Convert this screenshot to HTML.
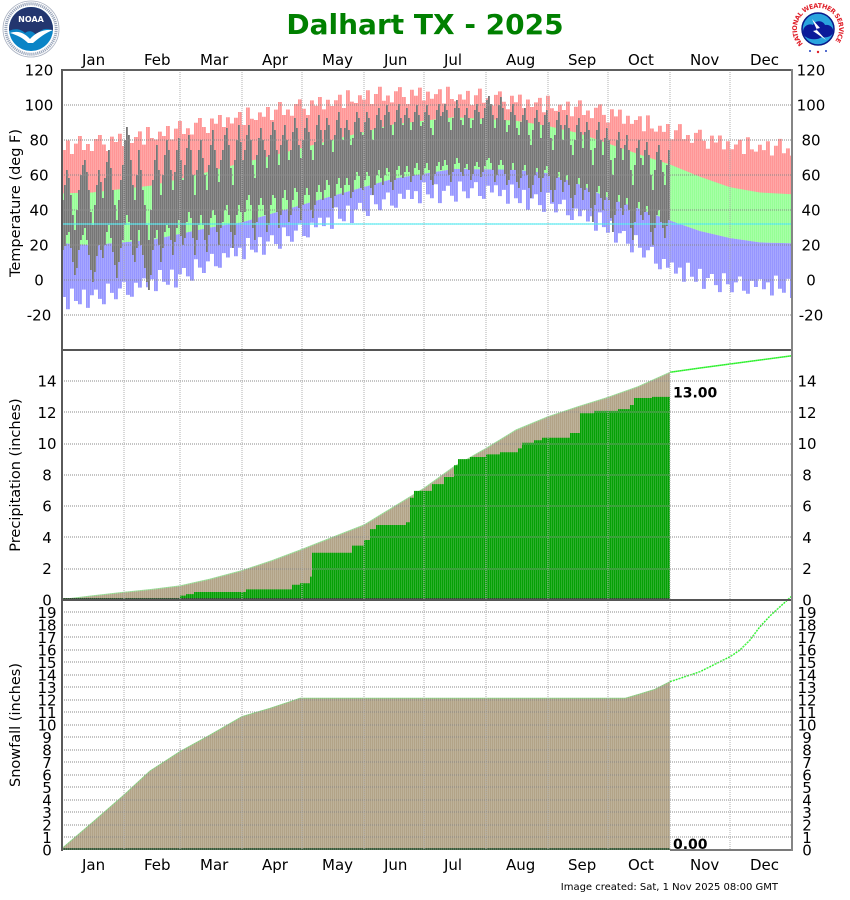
<!DOCTYPE html>
<html><head><meta charset="utf-8">
<style>html,body{margin:0;padding:0;background:#fff;}svg{display:block;}</style>
</head><body>
<svg xmlns="http://www.w3.org/2000/svg" width="850" height="900" viewBox="0 0 850 900" font-family="'DejaVu Sans', 'Liberation Sans', sans-serif">
<defs>
<pattern id="st" width="2" height="4" patternUnits="userSpaceOnUse"><rect x="1" y="0" width="1" height="4" fill="#fff" fill-opacity="0.16"/></pattern>
<clipPath id="nc"><circle cx="31" cy="29" r="22"/></clipPath>
</defs>
<rect width="850" height="900" fill="#fff"/>

<!-- record high band (red) -->
<path fill="#ff9696" d="M62,243.25V150h4V140.5h4V154h4V143.6h4V136h4V150h4V144h4V151h4V139h4V135h4V144.5h4V151h4V136.6h4V142h4V133.7h4V146h4V136.6h4V143h4V137h4V131.4h4V144.6h4V127h4V138h4V139.4h4V131.6h4V136h4V126h4V139.4h4V128.6h4V121h4V134h4V128.3h4V134.5h4V122.7h4V118h4V127h4V133h4V118.5h4V123.7h4V115h4V127h4V117.3h4V123.5h4V117.7h4V112h4V125h4V107.5h4V118.8h4V120h4V112.4h4V116.7h4V107h4V120h4V109.6h4V102h4V115h4V109.5h4V115.8h4V104h4V99.4h4V108.7h4V115h4V100.4h4V105.7h4V97h4V109.4h4V99.7h4V106h4V100.3h4V94.7h4V108h4V90.3h4V101.6h4V103h4V95.3h4V99.6h4V90.2h4V104h4V94h4V86.8h4V100.7h4V95.5h4V102.4h4V91.2h4V87.1h4V97h4V104h4V89.8h4V95.7h4V87.6h4V100.5h4V91.6h4V98.8h4V94.1h4V89.3h4V103.5h4V86.8h4V99h4V101.2h4V94.4h4V99.6h4V90.9h4V105.1h4V95.3h4V88.6h4V102.8h4V98h4V105.5h4V94.9h4V91.4h4V101.8h4V109.3h4V95.7h4V102.2h4V94.6h4V108.1h4V99.5h4V107h4V102.4h4V97.9h4V112.3h4V95.8h4V108.3h4V110.9h4V104.5h4V110h4V101.6h4V116.2h4V106.8h4V100.4h4V115h4V110.5h4V118.1h4V107.7h4V104.3h4V114.9h4V122.5h4V109.3h4V116.4h4V109.6h4V123.7h4V115.8h4V123.9h4V120h4V116.2h4V131.3h4V115.4h4V128.5h4V131.6h4V125.8h4V131.9h4V124h4V139.3h4V130.2h4V124.1h4V139.1h4V135h4V142.9h4V132.9h4V129.8h4V140.7h4V148.7h4V135.6h4V142.5h4V135.5h4V149.4h4V141.3h4V149.3h4V144.5h4V139.7h4V154h4V137.2h4V149.4h4V151.6h4V144.8h4V150.1h4V141.3h4V155.5h4V145.7h4V138.9h4V153.2h4V148.4h4V155.6h2V243.25L760,242.4L730,238L700,231L670,220.5L638,208.25L608,197.75L578,183.75L548,173.25L516,169.75L454,168.9L394,178.5L332,196L272,213.5L242,222.25L210,227.5L152,239.75L92,245L62,243.25Z"/>

<!-- record low band (blue) -->
<path fill="#9696ff" d="M62,243.25V297h4V309.3h4V288.6h4V301h4V304.3h4V289.6h4V307.9h4V295.3h4V289.6h4V298.9h4V304.2h4V283.6h4V292.9h4V299.2h4V288.5h4V281.8h4V294.9h4V296.8h4V282.7h4V287.6h4V278.4h4V287.3h4V279.2h4V291.1h4V270h4V281.8h4V284.7h4V269.6h4V287.5h4V274.3h4V268h4V276.4h4V280.8h4V259.2h4V267.6h4V273h4V261.4h4V253.9h4V266.3h4V267.7h4V253.1h4V257.5h4V247.9h4V256.3h4V247.8h4V259.2h4V238h4V249.7h4V252.4h4V237.1h4V254.8h4V241.5h4V235.3h4V244h4V248.7h4V227.4h4V236.1h4V241.8h4V230.6h4V223.3h4V236h4V237.4h4V222.8h4V227.3h4V217.7h4V226.1h4V217.5h4V228.9h4V207.4h4V218.8h4V221.2h4V205.6h4V223h4V209.5h4V202.9h4V211.3h4V216h4V195.1h4V204.2h4V210.3h4V199.4h4V192.5h4V205.6h4V207.7h4V193.8h4V198.9h4V189.9h4V199h4V191.1h4V203.2h4V182.3h4V194.4h4V198.3h4V184.2h4V203.1h4V190.9h4V185.8h4V195.7h4V201.6h4V181.5h4V191.4h4V198.3h4V188.2h4V182.1h4V196h4V198.9h4V185.8h4V192.5h4V185.3h4V196.1h4V189.9h4V203.7h4V184.5h4V198.3h4V203.1h4V189.9h4V209.7h4V198.5h4V194.3h4V205.1h4V211.9h4V192.7h4V203.8h4V212.4h4V204.1h4V199.7h4V215.3h4V220h4V208.6h4V216.3h4V209.9h4V221.5h4V216.2h4V230.8h4V212.4h4V227.1h4V232.7h4V220.9h4V242.6h4V233.3h4V231h4V243.7h4V252.4h4V235.1h4V247.8h4V257.5h4V250.2h4V246.9h4V263.6h4V269.3h4V259h4V267.7h4V262.5h4V273.6h4V267.6h4V281.7h4V262.7h4V276.8h4V281.8h4V268.9h4V288.9h4V278h4V274h4V285.1h4V292.1h4V273.2h4V284.2h4V292.3h4V282.4h4V276.5h4V290.7h4V293.8h4V280.9h4V287h4V279.1h4V289.2h4V282.4h4V295.5h4V275.6h4V288.7h4V292.8h4V278.9h4V298h2V243.25L760,242.4L730,238L700,231L670,220.5L638,208.25L608,197.75L578,183.75L548,173.25L516,169.75L454,168.9L394,178.5L332,196L272,213.5L242,222.25L210,227.5L152,239.75L92,245L62,243.25Z"/>

<!-- normal range (green) -->
<polygon fill="#96ff96" points="62,193.4 92,192.5 152,185.5 210,171.5 242,162.75 272,155.75 332,140 394,124.25 454,117.25 516,120.75 548,126 578,133 608,143.5 638,154 670,164.5 700,176.75 730,187.25 760,192.5 792,194.25 792,243.25 760,242.4 730,238 700,231 670,220.5 638,208.25 608,197.75 578,183.75 548,173.25 516,169.75 454,168.9 394,178.5 332,196 272,213.5 242,222.25 210,227.5 152,239.75 92,245 62,243.25"/>

<!-- actual daily temps (gray) -->
<path fill="none" stroke="#767676" stroke-width="2" d="M63,200V250M65,185V246M67,170V235M69,178V232M71,195V248M73,215V262M75,230V275M77,210V268M79,190V250M81,175V240M83,165V235M85,160V228M87,172V240M89,190V255M91,212V270M93,225V282M95,205V272M97,185V256M99,170V245M101,182V250M103,198V258M105,178V245M107,162V232M109,150V225M111,168V238M113,190V252M115,205V265M117,220V278M119,200V262M121,180V248M123,165V240M125,140V225M127,127V215M129,135V222M131,160V240M133,185V255M135,200V262M137,175V248M139,150V230M141,170V245M143,190V255M145,205V268M147,225V282M149,240V290M151,210V275M153,180V250M155,160V238M157,145V230M159,170V245M161,195V262M163,175V248M165,155V232M167,140V225M169,150V228M171,170V240M173,190V255M175,172V242M177,150V228M179,138V220M181,160V236M183,180V245M185,165V238M187,148V222M189,135V212M191,150V218M193,175V238M195,195V255M197,170V240M199,150V225M201,140V215M203,158V225M205,175V240M207,190V252M209,165V235M211,145V218M213,130V210M215,150V215M217,168V232M219,182V245M221,160V228M223,150V222M225,135V210M227,128V205M229,145V215M231,168V232M233,185V248M235,160V235M237,140V215M239,125V205M241,142V212M243,160V222M245,150V212M247,135V200M249,125V195M251,140V205M253,165V228M255,178V240M257,155V222M259,138V205M261,128V198M263,140V205M265,150V215M267,168V232M269,155V225M271,135V205M273,122V195M275,130V198M277,150V212M279,165V228M281,145V215M283,135V198M285,125V190M287,140V200M289,160V222M291,150V215M293,132V200M295,118V188M297,128V192M299,145V208M301,158V220M303,140V205M305,128V195M307,118V188M309,132V195M311,150V210M313,160V218M315,142V205M317,125V192M319,115V185M321,130V192M323,145V200M325,130V190M327,118V180M329,125V185M331,140V198M333,152V208M335,135V196M337,120V184M339,112V178M341,128V188M343,140V195M345,128V185M347,120V178M349,130V185M351,145V198M353,138V192M355,122V180M357,112V172M359,118V176M361,132V188M363,135V190M365,122V180M367,112V172M369,118V176M371,130V188M373,140V195M375,128V185M377,115V175M379,108V170M381,120V178M383,128V185M385,115V175M387,105V168M389,112V172M391,125V182M393,135V190M395,122V180M397,110V170M399,104V166M401,118V175M403,125V178M405,115V172M407,108V166M409,118V172M411,130V182M413,122V176M415,112V168M417,105V163M419,115V170M421,126V180M423,122V175M425,112V168M427,105V163M429,115V170M431,128V180M433,135V185M435,120V174M437,110V166M439,104V162M441,116V170M443,112V166M445,104V160M447,110V165M449,122V175M451,130V182M453,118V172M455,108V164M457,100V158M459,108V163M461,120V172M463,125V176M465,115V168M467,108V164M469,118V170M471,128V180M473,120V174M475,110V166M477,104V162M479,112V167M481,124V177M483,118V172M485,108V166M487,100V160M489,96V158M491,104V163M493,115V170M495,128V182M497,118V175M499,105V165M501,97V160M503,108V165M505,120V174M507,132V185M509,125V180M511,112V170M513,104V163M515,115V170M517,128V182M519,135V188M521,122V178M523,115V170M525,108V165M527,120V175M529,135V188M531,145V198M533,130V185M535,118V175M537,110V168M539,122V178M541,138V192M543,125V178M545,115V170M547,110V166M549,122V176M551,138V190M553,150V202M555,135V190M557,120V178M559,112V172M561,125V180M563,140V192M565,125V182M567,115V175M569,128V185M571,145V198M573,155V208M575,140V195M577,125V184M579,118V178M581,132V188M583,148V200M585,132V190M587,122V184M589,130V192M591,150V208M593,165V222M595,148V205M597,130V192M599,122V186M601,140V198M603,155V210M605,138V200M607,128V192M609,140V200M611,160V218M613,175V232M615,158V215M617,140V202M619,132V195M621,148V208M623,160V215M625,145V205M627,135V198M629,150V210M631,170V228M633,185V240M635,165V222M637,148V208M639,140V202M641,158V215M643,165V220M645,150V212M647,142V206M649,155V215M651,175V232M653,190V245M655,170V228M657,152V215M659,145V210M661,160V222M663,172V228M665,185V238M667,165V226M669,150V220"/>
<line x1="62" y1="224" x2="792" y2="224" stroke="#4ee6ee" stroke-width="1.3"/>

<!-- precipitation -->
<polygon fill="#b2a387" points="62,600 62,599.5 92,595.9 124,592.3 152,589.4 180,585.9 210,579.1 242,570.6 272,560.6 302,549.4 332,537.5 364,525 394,506.7 424,488.3 454,466.7 486,448.4 516,430 548,416.7 578,406.7 608,397.3 638,386.7 670,372.3 670,600"/>
<polyline fill="none" stroke="#93d88f" stroke-width="1" points="62,599.5 92,595.9 124,592.3 152,589.4 180,585.9 210,579.1 242,570.6 272,560.6 302,549.4 332,537.5 364,525 394,506.7 424,488.3 454,466.7 486,448.4 516,430 548,416.7 578,406.7 608,397.3 638,386.7 670,372.3"/>
<path fill="#05a005" d="M62,600 L62,599.7 H124 V598.4 H180 V595.6 H186 V594.1 H194 V592 H246 V589.4 H292 V584.7 H300 V583.3 H310 V576.6 H312 V552.7 H352 V545.6 H364 V540 H370 V529.1 H376 V525 H406 V522.3 H410 V497.7 H414 V490.9 H432 V484.1 H444 V477 H454 V465.3 H458 V459.1 H470 V457 H486 V454.4 H500 V452.3 H518 V448.4 H522 V442.7 H534 V440.3 H542 V437.7 H570 V433 H580 V413.3 H594 V410.9 H618 V409.1 H630 V405 H634 V398 H652 V396.9 H670 V600 Z"/>
<polyline fill="none" stroke="#2bf02b" stroke-width="1.5" points="670,372.3 700,368 730,364 760,360 792,355.7"/>
<line x1="62" y1="599" x2="670" y2="599" stroke="#2d4d2d" stroke-width="2"/>

<!-- snowfall -->
<polygon fill="#b2a387" points="62,850 62,848.5 93,822 124,795 150,771 180,751.6 210,735 242,716.6 270,708.3 290,701.7 300,698.3 625,698.3 640,694 655,689.3 670,681.7 670,850"/>
<polyline fill="none" stroke="#86c97c" stroke-width="1" points="62,848.5 93,822 124,795 150,771 180,751.6 210,735 242,716.6 270,708.3 290,701.7 300,698.3 625,698.3 640,694 655,689.3 670,681.7"/>
<polyline fill="none" stroke="#2bf02b" stroke-width="1.5" stroke-dasharray="2,1" points="670,681.7 700,671.7 720,661.7 730,656.7 740,650 750,640 760,626.7 770,616 780,606.7 792,596"/>
<line x1="62" y1="849" x2="670" y2="849" stroke="#3a5a3a" stroke-width="2"/>

<!-- stripe overlay -->
<rect x="62" y="70" width="730" height="780" fill="url(#st)"/>

<!-- gridlines -->
<g stroke="#8a8a8a" stroke-width="1" stroke-dasharray="1,1" shape-rendering="crispEdges">
<line x1="62" x2="792" y1="105" y2="105"/><line x1="62" x2="792" y1="140" y2="140"/><line x1="62" x2="792" y1="175" y2="175"/><line x1="62" x2="792" y1="210" y2="210"/><line x1="62" x2="792" y1="245" y2="245"/><line x1="62" x2="792" y1="280" y2="280"/><line x1="62" x2="792" y1="315" y2="315"/>
<line x1="62" x2="792" y1="381" y2="381"/><line x1="62" x2="792" y1="412" y2="412"/><line x1="62" x2="792" y1="444" y2="444"/><line x1="62" x2="792" y1="475" y2="475"/><line x1="62" x2="792" y1="506" y2="506"/><line x1="62" x2="792" y1="537" y2="537"/><line x1="62" x2="792" y1="569" y2="569"/>
<line x1="62" x2="792" y1="612" y2="612"/><line x1="62" x2="792" y1="625" y2="625"/><line x1="62" x2="792" y1="637" y2="637"/><line x1="62" x2="792" y1="650" y2="650"/><line x1="62" x2="792" y1="662" y2="662"/><line x1="62" x2="792" y1="675" y2="675"/><line x1="62" x2="792" y1="687" y2="687"/><line x1="62" x2="792" y1="700" y2="700"/><line x1="62" x2="792" y1="712" y2="712"/><line x1="62" x2="792" y1="725" y2="725"/><line x1="62" x2="792" y1="737" y2="737"/><line x1="62" x2="792" y1="750" y2="750"/><line x1="62" x2="792" y1="762" y2="762"/><line x1="62" x2="792" y1="775" y2="775"/><line x1="62" x2="792" y1="787" y2="787"/><line x1="62" x2="792" y1="800" y2="800"/><line x1="62" x2="792" y1="812" y2="812"/><line x1="62" x2="792" y1="825" y2="825"/><line x1="62" x2="792" y1="837" y2="837"/>
</g>
<g stroke="#b0b0b0" stroke-width="1" stroke-dasharray="1,1" shape-rendering="crispEdges">
<line x1="124" x2="124" y1="70" y2="850"/><line x1="180" x2="180" y1="70" y2="850"/><line x1="242" x2="242" y1="70" y2="850"/><line x1="302" x2="302" y1="70" y2="850"/><line x1="364" x2="364" y1="70" y2="850"/><line x1="424" x2="424" y1="70" y2="850"/><line x1="486" x2="486" y1="70" y2="850"/><line x1="548" x2="548" y1="70" y2="850"/><line x1="608" x2="608" y1="70" y2="850"/><line x1="670" x2="670" y1="70" y2="850"/><line x1="730" x2="730" y1="70" y2="850"/>
</g>

<!-- borders -->
<g shape-rendering="crispEdges">
<line x1="61" y1="70" x2="792" y2="70" stroke="#5e5e5e" stroke-width="2"/>
<line x1="62" y1="350" x2="792" y2="350" stroke="#555" stroke-width="2"/>
<line x1="62" y1="600" x2="792" y2="600" stroke="#555" stroke-width="2"/>
<line x1="670" y1="850" x2="792" y2="850" stroke="#7a7a7a" stroke-width="2"/>
<line x1="62" y1="69" x2="62" y2="851" stroke="#5a5a5a" stroke-width="2"/>
<line x1="792" y1="69" x2="792" y2="851" stroke="#858585" stroke-width="2"/>
</g>

<!-- title -->
<text x="425" y="34" font-size="28" font-weight="bold" fill="#008000" text-anchor="middle">Dalhart TX - 2025</text>

<!-- month labels -->
<g font-size="15" fill="#000">
<text x="82" y="65">Jan</text><text x="144" y="65">Feb</text><text x="200" y="65">Mar</text><text x="262" y="65">Apr</text><text x="322" y="65">May</text><text x="384" y="65">Jun</text><text x="444" y="65">Jul</text><text x="506" y="65">Aug</text><text x="568" y="65">Sep</text><text x="628" y="65">Oct</text><text x="690" y="65">Nov</text><text x="750" y="65">Dec</text>
<text x="82" y="870">Jan</text><text x="144" y="870">Feb</text><text x="200" y="870">Mar</text><text x="262" y="870">Apr</text><text x="322" y="870">May</text><text x="384" y="870">Jun</text><text x="444" y="870">Jul</text><text x="506" y="870">Aug</text><text x="568" y="870">Sep</text><text x="628" y="870">Oct</text><text x="690" y="870">Nov</text><text x="750" y="870">Dec</text>
</g>

<!-- temperature tick labels -->
<g font-size="15" fill="#000" text-anchor="middle">
<text x="39" y="75.5">120</text><text x="39" y="110.5">100</text><text x="39" y="145.5">80</text><text x="39" y="180.5">60</text><text x="39" y="215.5">40</text><text x="39" y="250.5">20</text><text x="39" y="285.5">0</text><text x="39" y="320.5">-20</text>
<text x="811" y="75.5">120</text><text x="811" y="110.5">100</text><text x="811" y="145.5">80</text><text x="811" y="180.5">60</text><text x="811" y="215.5">40</text><text x="811" y="250.5">20</text><text x="811" y="285.5">0</text><text x="811" y="320.5">-20</text>
</g>
<!-- precip tick labels -->
<g font-size="15" fill="#000" text-anchor="middle">
<text x="47" y="386.5">14</text><text x="47" y="418">12</text><text x="47" y="449">10</text><text x="47" y="480.5">8</text><text x="47" y="511.5">6</text><text x="47" y="543">4</text><text x="47" y="574">2</text><text x="47" y="605.5">0</text>
<text x="807" y="386.5">14</text><text x="807" y="418">12</text><text x="807" y="449">10</text><text x="807" y="480.5">8</text><text x="807" y="511.5">6</text><text x="807" y="543">4</text><text x="807" y="574">2</text><text x="807" y="605.5">0</text>
</g>
<!-- snow tick labels -->
<g font-size="15" fill="#000" text-anchor="middle">
<text x="47" y="618">19</text><text x="47" y="630.5">18</text><text x="47" y="643">17</text><text x="47" y="655.5">16</text><text x="47" y="668">15</text><text x="47" y="680.5">14</text><text x="47" y="693">13</text><text x="47" y="705.5">12</text><text x="47" y="718">11</text><text x="47" y="730.5">10</text><text x="47" y="743">9</text><text x="47" y="755.5">8</text><text x="47" y="768">7</text><text x="47" y="780.5">6</text><text x="47" y="793">5</text><text x="47" y="805.5">4</text><text x="47" y="818">3</text><text x="47" y="830.5">2</text><text x="47" y="843">1</text><text x="47" y="855.5">0</text>
<text x="807" y="618">19</text><text x="807" y="630.5">18</text><text x="807" y="643">17</text><text x="807" y="655.5">16</text><text x="807" y="668">15</text><text x="807" y="680.5">14</text><text x="807" y="693">13</text><text x="807" y="705.5">12</text><text x="807" y="718">11</text><text x="807" y="730.5">10</text><text x="807" y="743">9</text><text x="807" y="755.5">8</text><text x="807" y="768">7</text><text x="807" y="780.5">6</text><text x="807" y="793">5</text><text x="807" y="805.5">4</text><text x="807" y="818">3</text><text x="807" y="830.5">2</text><text x="807" y="843">1</text><text x="807" y="855.5">0</text>
</g>

<!-- axis titles -->
<g font-size="14.5" fill="#000" text-anchor="middle">
<text transform="translate(20,203) rotate(-90)">Temperature (deg F)</text>
<text transform="translate(20,475) rotate(-90)">Precipitation (inches)</text>
<text transform="translate(20,725) rotate(-90)">Snowfall (inches)</text>
</g>

<!-- values -->
<text x="673" y="397.5" font-size="14" font-weight="bold" fill="#000">13.00</text>
<text x="673" y="849" font-size="14" font-weight="bold" fill="#000">0.00</text>

<!-- footer -->
<text x="778" y="890" font-size="10" fill="#000" text-anchor="end">Image created: Sat, 1 Nov 2025 08:00 GMT</text>

<!-- NOAA logo -->
<g>
<circle cx="31" cy="29" r="28" fill="#fff" stroke="#a8b0c0" stroke-width="0.8"/>
<circle cx="31" cy="29" r="25.2" fill="none" stroke="#9aa6bb" stroke-width="3" stroke-dasharray="1.2,0.8"/>
<g clip-path="url(#nc)">
<rect x="9" y="7" width="44" height="44" fill="#0a84c6"/>
<path d="M9,7 H53 V31 C47,27 41,29 36,35 C33,31 29,30 25,33 C21,29 15,28 9,31 Z" fill="#23366f"/>
<path d="M10,33 C18,30 25,33 30,39 C35,33 43,29 53,30 C45,33 39,38 33,43 L28,43 C23,38 17,35 10,33 Z" fill="#fff"/>
</g>
<text x="31" y="22" font-size="8" font-weight="bold" fill="#fff" text-anchor="middle">NOAA</text>
</g>

<!-- NWS logo -->
<g>
<circle cx="818" cy="29" r="27" fill="#fff"/>
<path id="nwsarc" d="M803.2,43.8 A21,21 0 1,1 832.8,43.8" fill="none"/>
<text font-size="6.5" font-weight="bold" fill="#e0202a"><textPath href="#nwsarc" textLength="95" lengthAdjust="spacing">NATIONAL WEATHER SERVICE</textPath></text>
<circle cx="818" cy="29" r="16" fill="#2aa4de" stroke="#0a1a8a" stroke-width="1.5"/>
<path d="M803,32 C803,26 809,23 813,25 C815,20 823,20 825,25 C830,24 834,28 833,32 C832,37 826,38 822,37 C818,40 810,40 806,37 C804,36 803,34 803,32 Z" fill="#0b1a9a"/>
<path d="M812,19 L820,28 L816,29 L826,40 L813,31 L817,30 Z" fill="#fff"/>
<circle cx="810" cy="51" r="1" fill="#2040c0"/><circle cx="818" cy="52" r="1.2" fill="#e0202a"/><circle cx="826" cy="51" r="1" fill="#2040c0"/>
</g>
</svg>
</body></html>
